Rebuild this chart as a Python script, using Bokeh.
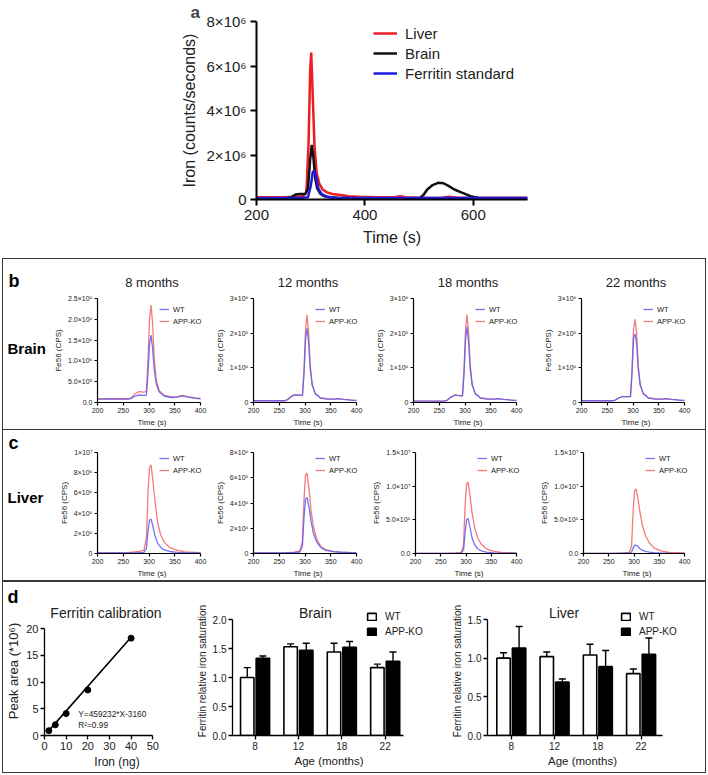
from bokeh.plotting import figure
from bokeh.layouts import row, column
from bokeh.models import (FixedTicker, Range1d, Legend, LegendItem, Whisker,
                          TeeHead, ColumnDataSource, Label)
from bokeh.transform import dodge
from bokeh.core.properties import value
from bokeh.embed import file_html
from bokeh.resources import INLINE

FONT = "Liberation Sans"

# ---------------- Panel a data (values in 10^6 counts/s) ----------------
a_t_liver = [200, 250, 270, 285, 292, 296, 299, 301, 304, 307, 311, 316, 322, 330, 340, 355, 370,
             390, 420, 455, 465, 475, 500, 540, 555, 570, 600, 650, 700]
a_liver = [0.10, 0.10, 0.12, 0.15, 0.30, 2.50, 5.80, 6.60, 4.50, 2.40, 1.20, 0.70, 0.45, 0.32, 0.25,
           0.20, 0.15, 0.12, 0.10, 0.10, 0.15, 0.10, 0.08, 0.07, 0.12, 0.08, 0.08, 0.08, 0.08]
a_t_brain = [200, 255, 265, 272, 280, 290, 295, 299, 302, 305, 308, 312, 318, 325, 335, 350, 380,
             420, 500, 508, 515, 525, 535, 545, 555, 565, 580, 595, 610, 650, 700]
a_brain = [0.05, 0.05, 0.12, 0.22, 0.25, 0.25, 0.50, 1.80, 2.45, 1.90, 1.00, 0.50, 0.25, 0.15, 0.10,
           0.08, 0.07, 0.06, 0.05, 0.20, 0.45, 0.65, 0.75, 0.73, 0.60, 0.45, 0.30, 0.15, 0.07, 0.06, 0.06]
a_t_ferr = [200, 280, 295, 300, 304, 307, 310, 314, 320, 330, 345, 400, 700]
a_ferr = [0.07, 0.07, 0.10, 0.60, 1.25, 1.30, 1.00, 0.50, 0.25, 0.12, 0.08, 0.07, 0.07]
a_yticks = [0, 2, 4, 6, 8]
a_ylabels = ["0", "2×10⁶", "4×10⁶", "6×10⁶", "8×10⁶"]
a_xticks = [200, 400, 600]

# ---------------- Panel b / c data (values in 10^6 CPS) ----------------
ages_titles = ["8 months", "12 months", "18 months", "22 months"]
time_ticks = [200, 250, 300, 350, 400]

b_t = [200, 260, 266, 272, 280, 290, 295, 298, 301, 304, 307, 310, 314, 320, 330, 345, 355, 365, 375, 390, 400]
b8_wt = [0.08, 0.08, 0.10, 0.15, 0.18, 0.17, 0.18, 0.70, 1.40, 1.62, 1.30, 0.80, 0.45, 0.25, 0.15, 0.12, 0.13, 0.16, 0.13, 0.10, 0.09]
b8_ko = [0.09, 0.09, 0.12, 0.20, 0.26, 0.25, 0.27, 1.00, 2.00, 2.34, 1.90, 1.10, 0.55, 0.28, 0.17, 0.13, 0.14, 0.17, 0.14, 0.11, 0.10]
b12_wt = [0.05, 0.05, 0.08, 0.16, 0.22, 0.21, 0.20, 0.80, 1.80, 2.15, 1.75, 1.00, 0.50, 0.25, 0.13, 0.10, 0.10, 0.11, 0.09, 0.07, 0.06]
b12_ko = [0.05, 0.05, 0.08, 0.16, 0.22, 0.21, 0.20, 0.90, 2.10, 2.52, 2.00, 1.10, 0.52, 0.26, 0.13, 0.10, 0.10, 0.11, 0.09, 0.07, 0.06]
b18_wt = [0.04, 0.04, 0.07, 0.15, 0.21, 0.20, 0.19, 0.80, 1.80, 2.18, 1.75, 1.00, 0.50, 0.25, 0.13, 0.10, 0.10, 0.11, 0.09, 0.07, 0.06]
b18_ko = [0.04, 0.04, 0.07, 0.15, 0.21, 0.20, 0.19, 0.90, 2.10, 2.54, 2.00, 1.10, 0.52, 0.26, 0.13, 0.10, 0.10, 0.11, 0.09, 0.07, 0.06]
b22_wt = [0.05, 0.05, 0.07, 0.13, 0.17, 0.17, 0.17, 0.80, 1.85, 1.98, 1.70, 1.00, 0.50, 0.25, 0.13, 0.10, 0.10, 0.11, 0.09, 0.07, 0.06]
b22_ko = [0.05, 0.05, 0.07, 0.13, 0.17, 0.17, 0.17, 0.90, 2.10, 2.40, 2.00, 1.10, 0.52, 0.26, 0.13, 0.10, 0.10, 0.11, 0.09, 0.07, 0.06]
b8_ticks = [0, 0.5, 1, 1.5, 2, 2.5]
b8_labels = ["0.0", "5.0×10⁵", "1.0×10⁶", "1.5×10⁶", "2.0×10⁶", "2.5×10⁶"]
b3_ticks = [0, 1, 2, 3]
b3_labels = ["0", "1×10⁶", "2×10⁶", "3×10⁶"]

c_t = [200, 260, 280, 290, 295, 298, 301, 304, 308, 312, 317, 323, 330, 340, 355, 370, 400]
c8_wt = [0.05, 0.05, 0.08, 0.10, 0.50, 2.20, 3.30, 3.40, 2.60, 1.70, 1.00, 0.60, 0.35, 0.20, 0.12, 0.08, 0.05]
c8_ko = [0.05, 0.08, 0.20, 0.30, 1.50, 6.00, 8.50, 8.77, 7.00, 5.00, 3.00, 1.80, 1.10, 0.60, 0.30, 0.15, 0.08]
c12_wt = [0.05, 0.05, 0.08, 0.12, 0.60, 2.80, 4.30, 4.44, 3.60, 2.50, 1.50, 0.90, 0.50, 0.25, 0.15, 0.10, 0.05]
c12_ko = [0.05, 0.05, 0.10, 0.20, 1.00, 4.20, 6.20, 6.37, 5.00, 3.30, 2.00, 1.10, 0.60, 0.30, 0.15, 0.10, 0.05]
c18_wt = [0.03, 0.03, 0.05, 0.08, 0.50, 3.00, 5.00, 5.20, 3.80, 2.30, 1.30, 0.70, 0.40, 0.20, 0.10, 0.06, 0.04]
c18_ko = [0.03, 0.03, 0.08, 0.15, 1.20, 7.00, 10.30, 10.60, 8.50, 6.00, 3.80, 2.30, 1.40, 0.70, 0.30, 0.15, 0.08]
c22_wt = [0.03, 0.03, 0.05, 0.06, 0.20, 0.80, 1.20, 1.25, 1.00, 0.70, 0.45, 0.30, 0.20, 0.12, 0.07, 0.05, 0.03]
c22_ko = [0.03, 0.03, 0.08, 0.15, 1.00, 6.00, 9.30, 9.60, 8.00, 6.00, 4.00, 2.60, 1.60, 0.80, 0.35, 0.15, 0.08]
c8_ticks = [0, 2, 4, 6, 8, 10]
c8_labels = ["0", "2×10⁶", "4×10⁶", "6×10⁶", "8×10⁶", "1×10⁷"]
c12_ticks = [0, 2, 4, 6, 8]
c12_labels = ["0", "2×10⁶", "4×10⁶", "6×10⁶", "8×10⁶"]
c15_ticks = [0, 5, 10, 15]
c15_labels = ["0.0", "5.0×10⁶", "1.0×10⁷", "1.5×10⁷"]

# ---------------- Panel d data ----------------
calib_iron = [2, 5, 10, 20, 40]
calib_area = [0.9, 2.0, 4.1, 8.5, 18.2]
fit_slope = 459232
fit_intercept = -3160
calib_xticks = [0, 10, 20, 30, 40, 50]
calib_yticks = [0, 5, 10, 15, 20]

ages = ["8", "12", "18", "22"]
brain_wt = [1.00, 1.53, 1.44, 1.17]
brain_wt_err = [0.17, 0.05, 0.15, 0.06]
brain_ko = [1.33, 1.47, 1.52, 1.28]
brain_ko_err = [0.04, 0.12, 0.10, 0.16]
liver_wt = [1.00, 1.02, 1.04, 0.80]
liver_wt_err = [0.07, 0.06, 0.14, 0.06]
liver_ko = [1.13, 0.69, 0.89, 1.05]
liver_ko_err = [0.28, 0.04, 0.21, 0.21]

WT_COLOR = "#5c5cf2"
KO_COLOR = "#f26464"
TXT = "#222222"
BOX = "1px solid #3a3a3a"


def style_axes(p, fs_tick, fs_label, lw=1.0, tick_len=3, standoff=2, label_standoff=2):
    for ax in (p.xaxis[0], p.yaxis[0]):
        ax.axis_line_width = lw
        ax.axis_line_color = "black"
        ax.major_tick_line_width = lw
        ax.major_tick_line_color = "black"
        ax.major_tick_out = tick_len
        ax.major_tick_in = 0
        ax.minor_tick_line_color = None
        ax.major_label_text_font = FONT
        ax.major_label_text_font_size = fs_tick
        ax.major_label_text_color = TXT
        ax.major_label_standoff = standoff
        ax.axis_label_text_font = FONT
        ax.axis_label_text_font_size = fs_label
        ax.axis_label_text_font_style = "normal"
        ax.axis_label_text_color = TXT
        ax.axis_label_standoff = label_standoff
    p.xgrid.visible = False
    p.ygrid.visible = False
    p.outline_line_color = None


# ---------------- Panel a ----------------
pa = figure(width=708, height=258, x_range=Range1d(200, 700), y_range=Range1d(0, 8),
            min_border_left=256, min_border_right=181, min_border_top=20, min_border_bottom=59,
            output_backend="svg", toolbar_location=None)
pa.title.text = "a"
pa.title.align = "left"
pa.title.offset = -66
pa.title.text_font = FONT
pa.title.text_font_size = "17px"
pa.title.text_font_style = "bold"
pa.title.standoff = 0
r_liv = pa.line(a_t_liver, a_liver, line_color="#ee1c24", line_width=2.5)
r_bra = pa.line(a_t_brain, a_brain, line_color="#111111", line_width=2.5)
r_fer = pa.line(a_t_ferr, a_ferr, line_color="#1c1ce0", line_width=2.5)
pa.xaxis.ticker = FixedTicker(ticks=a_xticks)
pa.yaxis.ticker = FixedTicker(ticks=a_yticks)
pa.yaxis.major_label_overrides = dict(zip(a_yticks, a_ylabels))
pa.xaxis.axis_label = "Time (s)"
pa.yaxis.axis_label = "Iron (counts/seconds)"
style_axes(pa, "15px", "16px", lw=2, tick_len=6, standoff=4, label_standoff=6)
leg_a = Legend(items=[LegendItem(label="Liver", renderers=[r_liv]),
                      LegendItem(label="Brain", renderers=[r_bra]),
                      LegendItem(label="Ferritin standard", renderers=[r_fer])],
               location=(117, 116), border_line_color=None, background_fill_alpha=0,
               padding=0, margin=0, spacing=0, glyph_width=24, glyph_height=20,
               label_height=20, label_standoff=8, label_text_font=FONT,
               label_text_font_size="15px", label_text_color=TXT)
pa.add_layout(leg_a)


# ---------------- chromatogram subplots ----------------
AX_W = 103      # px between t=200 and t=400
EXT = 6         # extra frame px right of t=400 (room for legend)


def chrom(t, wt, ko, ticks, labels, width, left, top, fh, bottom, title=None, leg_dy=5):
    x_end = 400 + EXT * 200 / AX_W
    p = figure(width=width, height=top + fh + bottom, x_range=Range1d(200, x_end),
               y_range=Range1d(0, ticks[-1]), min_border_left=left,
               min_border_right=width - left - AX_W - EXT,
               min_border_top=top, min_border_bottom=bottom,
               output_backend="svg", toolbar_location=None)
    if title:
        p.title.text = title
        p.title.align = "center"
        p.title.offset = -EXT / 2
        p.title.text_font = FONT
        p.title.text_font_size = "13px"
        p.title.text_font_style = "normal"
        p.title.text_color = TXT
        p.title.standoff = 18
    rk = p.line(t, ko, line_color=KO_COLOR, line_width=1.3, line_alpha=0.85)
    rw = p.line(t, wt, line_color=WT_COLOR, line_width=1.3, line_alpha=0.85)
    p.xaxis.ticker = FixedTicker(ticks=time_ticks)
    p.xaxis.bounds = (200, 400)
    p.yaxis.ticker = FixedTicker(ticks=ticks)
    p.yaxis.major_label_overrides = dict(zip(ticks, labels))
    p.xaxis.axis_label = "Time (s)"
    p.yaxis.axis_label = "Fe56 (CPS)"
    style_axes(p, "7px", "8px", lw=1.2, tick_len=3)
    leg = Legend(items=[LegendItem(label="WT", renderers=[rw]),
                        LegendItem(label="APP-KO", renderers=[rk])],
                 location=(62, fh - leg_dy - 24), border_line_color=None,
                 background_fill_alpha=0, padding=0, margin=0, spacing=0,
                 glyph_width=10, glyph_height=12, label_height=12, label_standoff=4,
                 label_text_font=FONT, label_text_font_size="7.5px", label_text_color=TXT)
    p.add_layout(leg)
    return p


def label_fig(width, top, fh, bottom, letter, letter_standoff, name, name_y):
    p = figure(width=width, height=top + fh + bottom, x_range=Range1d(0, width),
               y_range=Range1d(top + fh, top), x_axis_type=None, y_axis_type=None,
               min_border_left=0, min_border_right=0, min_border_top=top,
               min_border_bottom=bottom, output_backend="svg", toolbar_location=None)
    p.outline_line_color = None
    p.xgrid.visible = False
    p.ygrid.visible = False
    p.title.text = letter
    p.title.align = "left"
    p.title.offset = 5
    p.title.text_font = FONT
    p.title.text_font_size = "18px"
    p.title.text_font_style = "bold"
    p.title.text_color = "black"
    p.title.standoff = letter_standoff
    p.text(x=[4], y=[name_y], text=[name], text_font=value(FONT), text_font_size="15px",
           text_font_style="bold", text_baseline="middle", text_color="black")
    return p


LBL_W = 46
widths = [160, 160, 168, 168]
lefts = [48, 44, 44, 44]
b_data = [(b8_wt, b8_ko, b8_ticks, b8_labels), (b12_wt, b12_ko, b3_ticks, b3_labels),
          (b18_wt, b18_ko, b3_ticks, b3_labels), (b22_wt, b22_ko, b3_ticks, b3_labels)]
c_data = [(c8_wt, c8_ko, c8_ticks, c8_labels), (c12_wt, c12_ko, c12_ticks, c12_labels),
          (c18_wt, c18_ko, c15_ticks, c15_labels), (c22_wt, c22_ko, c15_ticks, c15_labels)]

B_TOP, B_FH, B_BOT = 39, 104, 27
C_TOP, C_FH, C_BOT = 21, 104, 25

b_figs = [chrom(b_t, d[0], d[1], d[2], d[3], w, l, B_TOP, B_FH, B_BOT, title=ttl, leg_dy=5)
          for d, w, l, ttl in zip(b_data, widths, lefts, ages_titles)]
c_figs = [chrom(c_t, d[0], d[1], d[2], d[3], w, l, C_TOP, C_FH, C_BOT, leg_dy=3)
          for d, w, l in zip(c_data, widths, lefts)]

row_b = row(label_fig(LBL_W, B_TOP, B_FH, B_BOT, "b", 16, "Brain", 89), *b_figs,
            margin=(0, 0, 0, 2), styles={"border": BOX})
row_c = row(label_fig(LBL_W, C_TOP, C_FH, C_BOT, "c", 0, "Liver", 67), *c_figs,
            margin=(0, 0, 0, 2), styles={"border": BOX, "border-top": "none"})

# ---------------- Panel d ----------------
D_TOP, D_FH, D_BOT = 24, 129, 37      # shared frame top / height / bottom (px)

# calibration: y 0..20 spans 107 px ending at frame bottom, x 0..50 spans 109 px
cal_ypp = 107 / 20
cal_xpp = 109 / 50
cal_y_end = 20 + (D_FH - 107) / cal_ypp
cal_x_end = 50 + 37 / cal_xpp
pc = figure(width=190, height=D_TOP + D_FH + D_BOT, x_range=Range1d(0, cal_x_end),
            y_range=Range1d(0, cal_y_end), min_border_left=40, min_border_right=4,
            min_border_top=D_TOP, min_border_bottom=D_BOT,
            output_backend="svg", toolbar_location=None)
pc.title.text = "d"
pc.title.align = "left"
pc.title.offset = -37
pc.title.text_font = FONT
pc.title.text_font_size = "18px"
pc.title.text_font_style = "bold"
pc.title.text_color = "black"
pc.title.standoff = 0
fit_x = [calib_iron[0], calib_iron[-1]]
fit_y = [(fit_slope * x + fit_intercept) / 1e6 for x in fit_x]
pc.line(fit_x, fit_y, line_color="black", line_width=1.6)
pc.scatter(calib_iron, calib_area, size=6, color="black")
pc.xaxis.ticker = FixedTicker(ticks=calib_xticks)
pc.yaxis.ticker = FixedTicker(ticks=calib_yticks)
pc.xaxis.bounds = (0, 50)
pc.yaxis.bounds = (0, 20)
pc.xaxis.axis_label = "Iron (ng)"
pc.yaxis.axis_label = "Peak area (*10⁶)"
style_axes(pc, "11px", "13px", lw=1.3, tick_len=4)
pc.xaxis.axis_label_text_font_size = "12px"
pc.add_layout(Label(x=28.4, y=20 + 16 / cal_ypp, text="Ferritin calibration", text_font=FONT,
                    text_font_size="14px", text_align="center", text_baseline="middle",
                    text_color=TXT))
pc.add_layout(Label(x=15.6, y=3.93, text="Y=459232*X-3160", text_font=FONT,
                    text_font_size="8.3px", text_baseline="middle", text_color=TXT))
pc.add_layout(Label(x=15.6, y=1.87, text="R²=0.99", text_font=FONT,
                    text_font_size="8.3px", text_baseline="middle", text_color=TXT))


def bar_fig(title, title_x, wt, wt_err, ko, ko_err, ymax, yticks, width, axis_w, ext_w, xr,
            leg_dx):
    xs = [i + 1 for i in range(len(ages))]
    src = ColumnDataSource(dict(x=xs, wt=wt, ko=ko,
                                wt_up=[m + e for m, e in zip(wt, wt_err)],
                                ko_up=[m + e for m, e in zip(ko, ko_err)]))
    ypp = 116 / ymax                      # px per unit: ymax sits 13 px below frame top
    y_end = ymax + 13 / ypp
    xpp = axis_w / (xr[1] - xr[0])
    x_end = xr[1] + ext_w / xpp
    left = 36
    p = figure(width=width, height=D_TOP + D_FH + D_BOT, x_range=Range1d(xr[0], x_end),
               y_range=Range1d(0, y_end), min_border_left=left,
               min_border_right=width - left - axis_w - ext_w,
               min_border_top=D_TOP, min_border_bottom=D_BOT,
               output_backend="svg", toolbar_location=None)
    for col, up, off in (("wt", "wt_up", -0.18), ("ko", "ko_up", 0.18)):
        p.add_layout(Whisker(source=src, base=dodge("x", off), lower=col, upper=up,
                             line_color="black", line_width=1.4,
                             upper_head=TeeHead(size=7, line_color="black", line_width=1.4),
                             lower_head=None, level="glyph"))
    rw = p.vbar(x=dodge("x", -0.18), top="wt", width=0.31, source=src, fill_color="white",
                line_color="black", line_width=1.6)
    rk = p.vbar(x=dodge("x", 0.18), top="ko", width=0.31, source=src, fill_color="black",
                line_color="black", line_width=1.6)
    p.xaxis.ticker = FixedTicker(ticks=xs)
    p.xaxis.major_label_overrides = dict(zip(xs, ages))
    p.xaxis.bounds = xr
    p.yaxis.ticker = FixedTicker(ticks=yticks)
    p.yaxis.major_label_overrides = {v: f"{v:.1f}" for v in yticks}
    p.yaxis.bounds = (0, ymax)
    p.xaxis.axis_label = "Age (months)"
    p.yaxis.axis_label = "Ferritin relative iron saturation"
    style_axes(p, "10px", "11.5px", lw=1.3, tick_len=4)
    p.yaxis.axis_label_text_font_size = "10px"
    p.add_layout(Label(x=title_x, y=ymax + 7 / ypp, text=title, text_font=FONT,
                       text_font_size="14px", text_align="center", text_baseline="middle",
                       text_color=TXT))
    leg = Legend(items=[LegendItem(label="WT", renderers=[rw]),
                        LegendItem(label="APP-KO", renderers=[rk])],
                 location=(leg_dx, D_FH - 2.5 - 30), border_line_color=None,
                 background_fill_alpha=0, padding=0, margin=0, spacing=0,
                 glyph_width=11, glyph_height=9, label_height=15, label_standoff=8,
                 label_text_font=FONT, label_text_font_size="10px", label_text_color=TXT)
    p.add_layout(leg)
    return p


pbrain = bar_fig("Brain", 2.39, brain_wt, brain_wt_err, brain_ko, brain_ko_err, 2.0,
                 [0, 0.5, 1.0, 1.5, 2.0], 255, 174, 22, (0.48, 4.43), 134)
pliver = bar_fig("Liver", 2.22, liver_wt, liver_wt_err, liver_ko, liver_ko_err, 1.5,
                 [0, 0.5, 1.0, 1.5], 257, 178, 15, (0.45, 4.5), 133)

row_d = row(pc, pbrain, pliver, margin=(0, 0, 0, 2), styles={"border": BOX})

layout = column(pa, row_b, row_c, row_d)

open("out.html", "w").write(file_html(layout, INLINE))
